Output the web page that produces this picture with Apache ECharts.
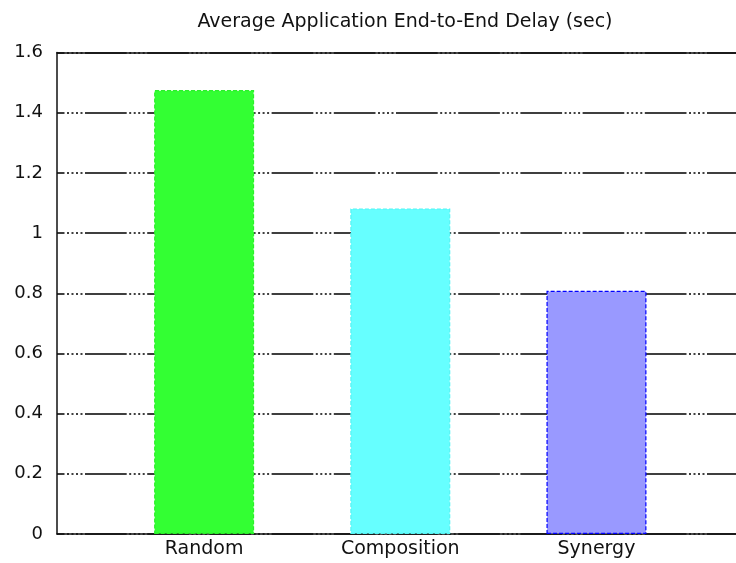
<!DOCTYPE html>
<html>
<head>
<meta charset="utf-8">
<script src="https://cdn.jsdelivr.net/npm/echarts@6/dist/echarts.min.js"></script>
<style>
  html, body { margin: 0; padding: 0; background: #ffffff; }
  #chart { width: 736px; height: 563px; }
</style>
</head>
<body>
<div id="chart"></div>
<script>
// Scenario names and their measured mean end-to-end delay (seconds)
const categories = ['Random', 'Composition', 'Synergy'];
const delays = [1.475, 1.082, 0.808];

// Fill and edge colours, one per bar
const barColors = ['#33ff33', '#66ffff', '#9999ff'];
const edgeColors = ['#2af02a', '#55f4f4', '#0000ff'];

// Y scale
const yMin = 0;
const yMax = 1.6;
const yStep = 0.2;

const chartTitle = 'Average Application End-to-End Delay (sec)';

const FONT = 'DejaVu Sans';
const chart = echarts.init(document.getElementById('chart'), null, { renderer: 'canvas' });

// Bars sit at x = 1, 2, 3 on a numeric axis spanning 0.25 .. 3.75;
// the plot box runs a little past the right edge of the canvas.
const positions = categories.map((_, i) => i + 1);
const frameLine = { show: true, onZero: false, lineStyle: { color: '#111', width: 1.5 } };

chart.setOption({
  animation: false,
  backgroundColor: '#ffffff',
  title: {
    text: chartTitle,
    left: 400,
    top: 8,
    textAlign: 'center',
    textStyle: { fontFamily: FONT, fontSize: 19, fontWeight: 'normal', color: '#111' }
  },
  grid: {
    left: 57,
    top: 52.5,
    width: 686.6,
    bottom: 29,
    outerBoundsMode: 'none',
    containLabel: false,
    show: false
  },
  xAxis: [{
    type: 'value',
    position: 'bottom',
    min: 0.25,
    max: 3.75,
    axisLine: frameLine,
    axisTick: { show: false },
    splitLine: { show: false },
    axisLabel: {
      customValues: positions,
      formatter: v => categories[Math.round(v) - 1] || '',
      margin: 6,
      fontFamily: FONT,
      fontSize: 19,
      color: '#111'
    }
  }, {
    // top edge of the plot box
    type: 'value',
    position: 'top',
    min: 0.25,
    max: 3.75,
    axisLine: frameLine,
    axisTick: { show: false },
    axisLabel: { show: false },
    splitLine: { show: false }
  }],
  yAxis: {
    type: 'value',
    min: yMin,
    max: yMax,
    interval: yStep,
    axisLine: frameLine,
    axisTick: { show: false },
    axisLabel: {
      margin: 14,
      fontFamily: FONT,
      fontSize: 18,
      color: '#111'
    },
    splitLine: {
      show: true,
      lineStyle: {
        color: '#000',
        width: 1.5,
        type: [41.7, 2.5, 2, 2.5, 2, 2.5, 2, 2.5, 2, 2.5],
        dashOffset: 34.2
      }
    }
  },
  series: [{
    type: 'bar',
    xAxisIndex: 0,
    barWidth: 100,
    data: categories.map((name, i) => ({
      name: name,
      value: [positions[i], delays[i]],
      itemStyle: {
        color: barColors[i],
        borderColor: edgeColors[i],
        borderWidth: 1.2,
        borderType: [4, 2]
      }
    }))
  }]
});
</script>
</body>
</html>
